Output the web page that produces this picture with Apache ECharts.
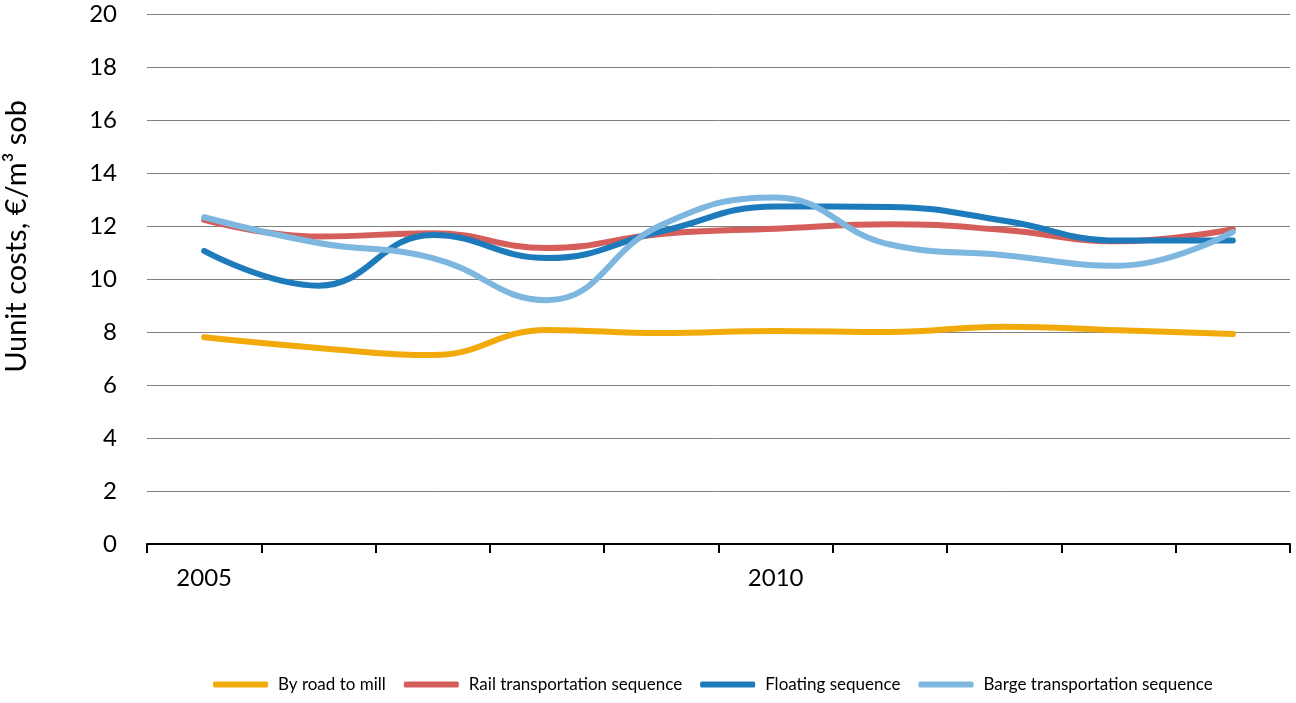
<!DOCTYPE html>
<html>
<head>
<meta charset="utf-8">
<script src="https://cdn.jsdelivr.net/npm/echarts@6/dist/echarts.min.js"></script>
<style>
  html, body { margin: 0; padding: 0; background: #fff; }
  #chart { width: 1296px; height: 703px; }
</style>
</head>
<body>
<div id="chart"></div>
<script>
  var years = ['2005', '2006', '2007', '2008', '2009', '2010', '2011', '2012', '2013', '2014'];
  var seriesNames = ['By road to mill', 'Rail transportation sequence', 'Floating sequence', 'Barge transportation sequence'];
  var byRoad = [7.8, 7.4, 7.13, 8.08, 7.96, 8.04, 8.0, 8.2, 8.07, 7.92];
  var rail = [12.23, 11.6, 11.73, 11.17, 11.7, 11.9, 12.07, 11.85, 11.42, 11.88];
  var floating = [11.06, 9.75, 11.66, 10.79, 11.8, 12.74, 12.72, 12.2, 11.45, 11.45];
  var barge = [12.33, 11.36, 10.79, 9.2, 12.04, 13.08, 11.3, 10.9, 10.5, 11.78];
  var yTicks = [0, 20, 2];
  var colors = ['#F2AA0A', '#D55E5B', '#1E7BBB', '#7DB7E0'];

  var font = 'Lato, "Open Sans", sans-serif';
  var chart = echarts.init(document.getElementById('chart'));

  var seriesData = [byRoad, rail, floating, barge];
  var series = [];
  for (var i = 0; i < seriesNames.length; i++) {
    series.push({
      name: seriesNames[i],
      type: 'line',
      data: seriesData[i],
      smooth: 0.45,
      symbol: 'none',
      lineStyle: { width: 6, color: colors[i], cap: 'round' },
      itemStyle: { color: colors[i] }
    })
  }

  var option = {
    animation: false,
    color: colors,
    grid: { left: 147, right: 6, top: 14, bottom: 159, containLabel: false },
    legend: {
      bottom: 5,
      left: 208,
      itemWidth: 55,
      itemHeight: 6,
      itemGap: 18,
      icon: 'roundRect',
      textStyle: { fontFamily: font, fontSize: 17, color: '#000', padding: [0, 0, 0, 5] },
      data: seriesNames
    },
    xAxis: {
      type: 'category',
      data: years,
      boundaryGap: true,
      axisLine: { show: true, lineStyle: { color: '#000', width: 2 } },
      axisTick: { show: true, interval: 0, inside: false, length: 9, lineStyle: { color: '#000', width: 2 } },
      axisLabel: { interval: 4, margin: 22, fontFamily: font, fontSize: 24, color: '#000' }
    },
    yAxis: {
      type: 'value',
      min: yTicks[0],
      max: yTicks[1],
      interval: yTicks[2],
      axisLine: { show: false },
      axisTick: { show: false },
      axisLabel: { margin: 30, fontFamily: font, fontSize: 24, color: '#000' },
      splitLine: { lineStyle: { color: '#808080', width: 1 } }
    },
    graphic: [{
      type: 'text',
      left: 2,
      top: 100,
      rotation: Math.PI / 2,
      style: {
        text: 'Uunit costs, €/m³ sob',
        font: '29px ' + font,
        fill: '#000'
      }
    }],
    series: series
  };
  chart.setOption(option);
</script>
</body>
</html>
